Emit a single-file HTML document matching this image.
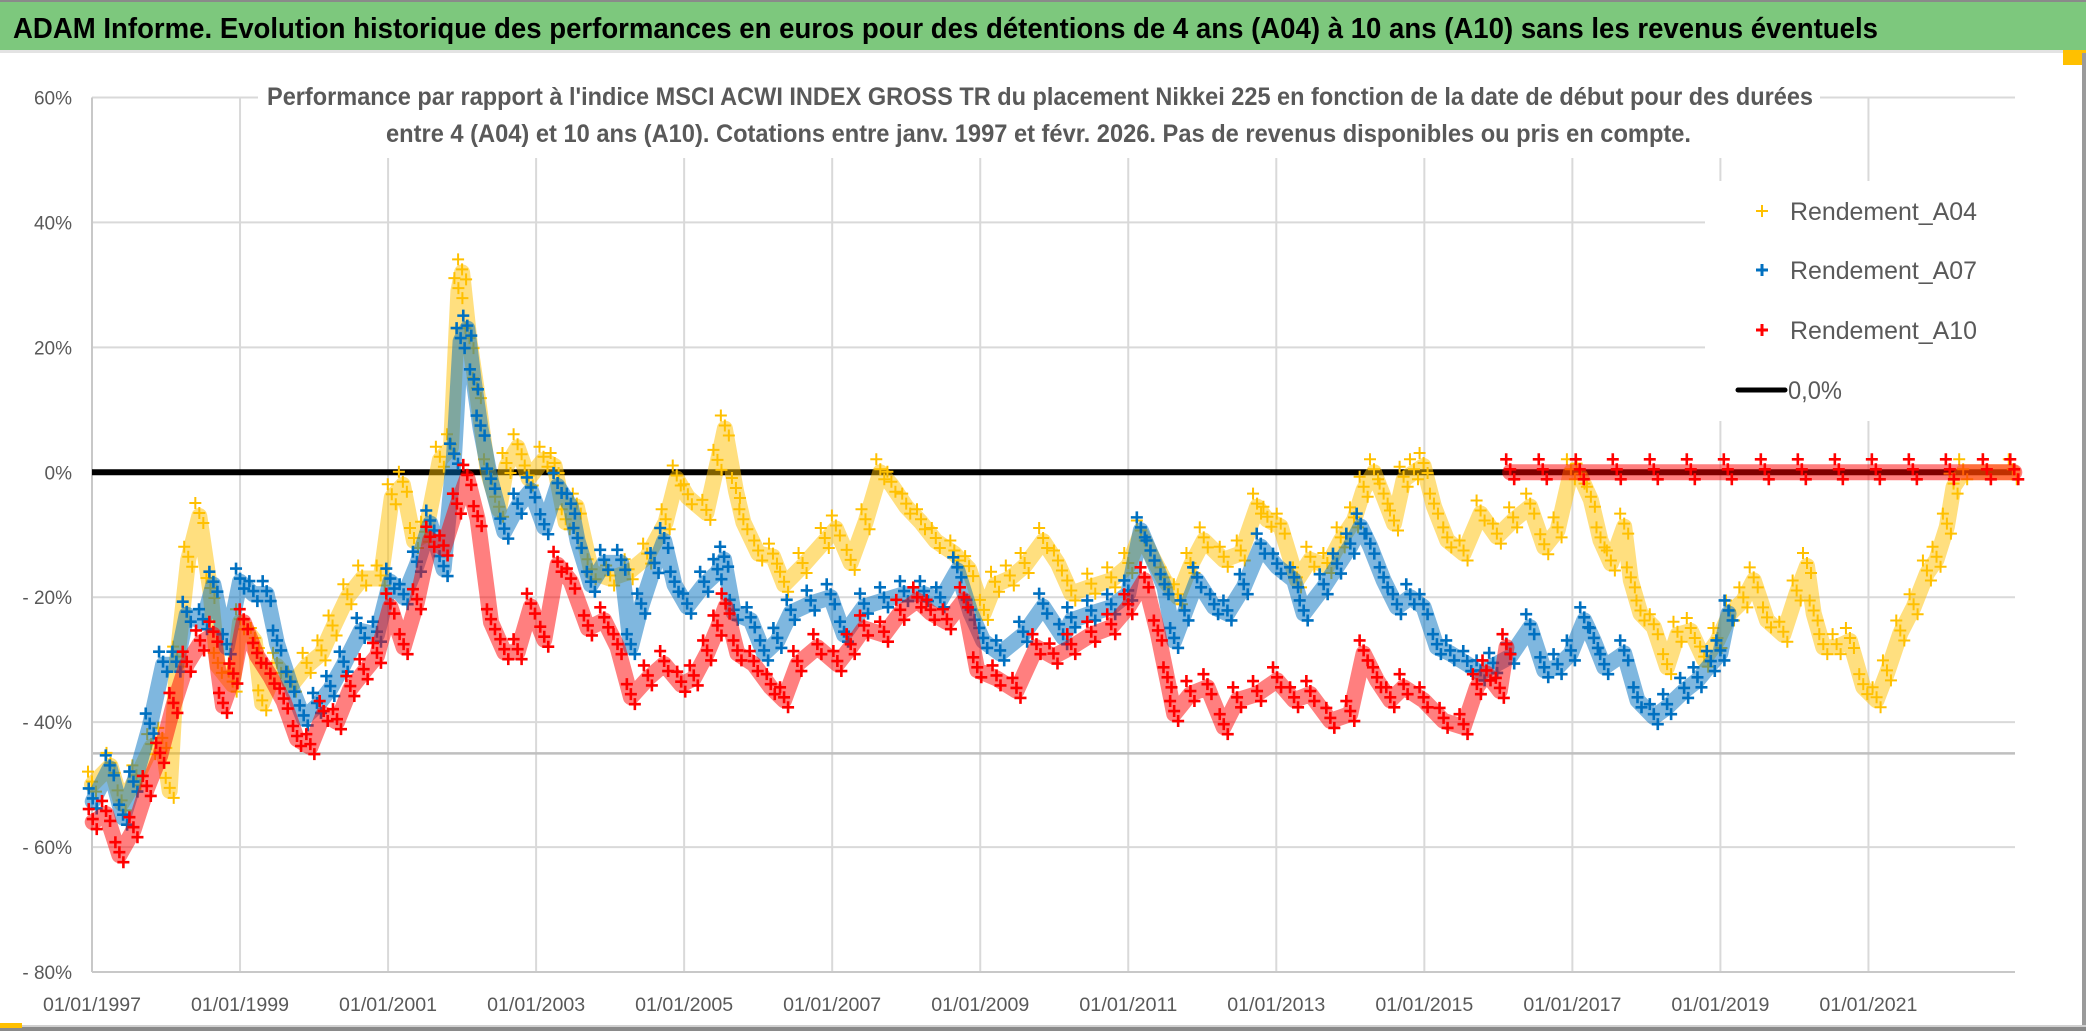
<!DOCTYPE html>
<html><head><meta charset="utf-8"><style>
html,body{margin:0;padding:0;background:#fff;}
svg{display:block;}
text{font-family:"Liberation Sans",sans-serif;}
</style></head><body>
<svg id="chart" width="2086" height="1031" viewBox="0 0 2086 1031" xmlns="http://www.w3.org/2000/svg">
<rect x="0" y="0" width="2086" height="1031" fill="#fff"/>
<rect x="0" y="0" width="2086" height="50" fill="#7DC87D"/>
<rect x="0" y="0" width="2086" height="2" fill="#8a8a8a"/>
<rect x="0" y="50" width="2086" height="3" fill="#e3e3e3"/>
<text x="13" y="38" font-size="29" font-weight="bold" fill="#000" textLength="1865" lengthAdjust="spacingAndGlyphs">ADAM Informe. Evolution historique des performances en euros pour des détentions de 4 ans (A04) à 10 ans (A10) sans les revenus éventuels</text>
<rect x="2063" y="50" width="23" height="15" fill="#FFC000"/>
<rect x="2082" y="53" width="4" height="978" fill="#9a9a9a"/>
<rect x="0" y="1025" width="2086" height="2" fill="#d0d0d0"/>
<rect x="0" y="1027" width="2086" height="4" fill="#8a8a8a"/>
<rect x="0" y="1023" width="22" height="5" fill="#FFC000"/>
<g id="grid"></g>
<g id="axes"></g>
<g id="series"></g>
<rect x="258" y="72" width="1562" height="86" fill="#fff"/>
<text x="267" y="105" font-size="25" font-weight="bold" fill="#595959" textLength="1546" lengthAdjust="spacingAndGlyphs">Performance par rapport à l'indice MSCI ACWI INDEX GROSS TR  du placement Nikkei 225 en fonction de la date de début pour des durées</text>
<text x="386" y="142" font-size="25" font-weight="bold" fill="#595959" textLength="1305" lengthAdjust="spacingAndGlyphs">entre 4 (A04) et 10 ans (A10). Cotations entre janv. 1997 et févr. 2026. Pas de revenus disponibles ou pris en compte.</text>
<g>
<rect x="1705" y="181" width="310" height="240" fill="#fff"/>
<g>
<path d="M1756 211h12M1762 205v12" stroke="#FFC000" stroke-width="2"/>
<text x="1790" y="220" font-size="25" fill="#595959" textLength="187" lengthAdjust="spacingAndGlyphs">Rendement_A04</text></g>
<g>
<path d="M1756 270h12M1762 264v12" stroke="#0070C0" stroke-width="3"/>
<text x="1790" y="279" font-size="25" fill="#595959" textLength="187" lengthAdjust="spacingAndGlyphs">Rendement_A07</text></g>
<g>
<path d="M1756 330h12M1762 324v12" stroke="#FF0000" stroke-width="3"/>
<text x="1790" y="339" font-size="25" fill="#595959" textLength="187" lengthAdjust="spacingAndGlyphs">Rendement_A10</text></g>
<g>
<line x1="1738" y1="390" x2="1785" y2="390" stroke="#000" stroke-width="5" stroke-linecap="round"/>
<text x="1788" y="399" font-size="25" fill="#595959" textLength="54" lengthAdjust="spacingAndGlyphs">0,0%</text></g>
</g>
</svg>
<script>
const yTicks = [60, 40, 20, 0, -20, -40, -60, -80];
const yTickLabels = ["60%", "40%", "20%", "0%", "- 20%", "- 40%", "- 60%", "- 80%"];
const xTicks = [1997, 1999, 2001, 2003, 2005, 2007, 2009, 2011, 2013, 2015, 2017, 2019, 2021];
const xTickLabels = ["01/01/1997","01/01/1999","01/01/2001","01/01/2003","01/01/2005","01/01/2007","01/01/2009","01/01/2011","01/01/2013","01/01/2015","01/01/2017","01/01/2019","01/01/2021"];
const refLevel = -45;
const zeroLevel = 0;

const datesA04 = [1997.0,1997.25,1997.4,1997.6,1997.8,1997.95,1998.05,1998.15,1998.3,1998.45,1998.6,1998.7,1998.9,1999.0,1999.2,1999.3,1999.5,1999.7,1999.9,2000.1,2000.25,2000.45,2000.65,2000.9,2001.05,2001.2,2001.35,2001.5,2001.7,2001.85,2001.95,2002.0,2002.1,2002.2,2002.35,2002.5,2002.6,2002.75,2002.9,2003.1,2003.25,2003.4,2003.55,2003.75,2004.0,2004.25,2004.5,2004.75,2004.9,2005.05,2005.3,2005.45,2005.55,2005.7,2005.8,2006.0,2006.2,2006.35,2006.6,2006.9,2007.05,2007.25,2007.45,2007.65,2007.8,2008.0,2008.2,2008.4,2008.65,2008.85,2009.05,2009.2,2009.4,2009.6,2009.85,2010.05,2010.23,2010.5,2010.77,2011.0,2011.17,2011.3,2011.49,2011.67,2011.84,2012.02,2012.29,2012.52,2012.74,2012.88,2013.06,2013.28,2013.46,2013.69,2013.87,2014.05,2014.18,2014.32,2014.45,2014.59,2014.72,2014.86,2014.99,2015.13,2015.31,2015.53,2015.76,2015.98,2016.2,2016.43,2016.62,2016.8,2016.98,2017.11,2017.25,2017.38,2017.52,2017.7,2017.79,2017.92,2018.1,2018.28,2018.42,2018.6,2018.78,2018.96,2019.13,2019.31,2019.45,2019.63,2019.85,2020.03,2020.17,2020.26,2020.39,2020.57,2020.75,2020.93,2021.11,2021.25,2021.43,2021.61,2021.79,2021.92,2022.06,2022.15,2022.28,2022.6,2022.95];
const valuesA04 = [-50,-47,-53,-49,-44,-43,-51,-30,-14,-7,-19,-31,-34,-24,-27,-37,-31,-34,-31,-29,-25,-20,-17,-17,-4,-2,-11,-10,2,4,29,32,21,13,0,-6,1,4,-1,2,1,-8,-5.5,-16,-17,-16,-13.5,-8,-1,-4,-6.5,1.5,7,-3,-8,-13,-13.5,-18,-15,-11,-9,-14.5,-8,0,-2,-5.5,-8,-11,-13,-15.5,-22.5,-18,-17,-15,-11,-14.6,-19.4,-18.3,-17.3,-15,-9.8,-13,-17.3,-20,-15,-10.9,-14,-13,-5.5,-7.6,-8.7,-17.3,-14,-15,-10.9,-7.7,-2.8,0,-3.9,-8.2,-1.2,0,1,-5.5,-10.9,-13,-6.6,-10.3,-7.7,-5.5,-12,-9.3,0,-0.7,-4.4,-10.9,-14.6,-8.7,-17.3,-22.6,-24.8,-31.2,-26,-25.4,-30,-27,-22.6,-20.5,-17.3,-23.7,-26,-19.4,-15,-22.6,-28,-28,-27,-34.4,-36.5,-32.2,-25.8,-21.6,-16.2,-14,-8.7,-2.3,0,0,0];

const datesA07 = [1997.01,1997.24,1997.42,1997.56,1997.78,1997.96,1998.14,1998.28,1998.5,1998.64,1998.82,1999.0,1999.18,1999.36,1999.5,1999.68,1999.86,2000.04,2000.22,2000.4,2000.63,2000.85,2001.03,2001.21,2001.39,2001.57,2001.75,2001.89,2001.98,2002.07,2002.16,2002.25,2002.39,2002.57,2002.75,2002.93,2003.11,2003.29,2003.47,2003.56,2003.74,2003.92,2004.15,2004.28,2004.42,2004.6,2004.73,2004.87,2005.04,2005.27,2005.45,2005.54,2005.67,2005.9,2006.08,2006.26,2006.44,2006.71,2006.98,2007.16,2007.43,2007.7,2007.97,2008.24,2008.46,2008.69,2008.87,2009.04,2009.27,2009.58,2009.85,2010.12,2010.23,2010.5,2010.77,2011.0,2011.17,2011.3,2011.49,2011.62,2011.76,2011.93,2012.16,2012.34,2012.56,2012.79,2013.01,2013.24,2013.37,2013.64,2013.82,2014.0,2014.14,2014.27,2014.45,2014.63,2014.81,2014.99,2015.17,2015.35,2015.58,2015.76,2015.93,2016.16,2016.43,2016.62,2016.8,2016.98,2017.16,2017.29,2017.43,2017.7,2017.88,2018.1,2018.28,2018.51,2018.69,2018.87,2019.0,2019.11];
const valuesA07 = [-52.7,-47.4,-55.3,-50,-40.7,-30.8,-30.8,-22.8,-24,-18,-28,-17.5,-19.5,-19.5,-27.4,-34,-39.4,-37.4,-34.7,-30.8,-25.4,-26,-17.5,-20,-14.8,-8.2,-15.5,2.5,21,23,14.4,7,-1.5,-9.5,-5.5,-2.9,-8.8,-2.2,-5.5,-11,-18,-14.5,-14.5,-28,-21.5,-15,-11,-18,-21.5,-18,-16,-14,-22.5,-23.7,-29,-27,-22.5,-21,-20,-26,-21.5,-20.5,-19.5,-19.5,-20.5,-15.7,-22.5,-27,-29,-26,-21.5,-26.4,-23.7,-22.6,-21.6,-19.4,-9.3,-13,-18.4,-27,-22.6,-17.3,-21.6,-22.6,-18.4,-11.9,-15.1,-17.3,-22.6,-18.4,-15.1,-11.9,-8.7,-11.9,-17.3,-21.6,-20,-21.6,-28,-29,-30.7,-32.2,-31,-29.5,-24.8,-31.7,-31.2,-29,-23.7,-27,-31.2,-29,-36.5,-39.2,-37.6,-35,-33.3,-30.7,-29,-22.6];

const datesA10 = [1997.01,1997.19,1997.37,1997.56,1997.74,1997.92,1998.1,1998.28,1998.46,1998.64,1998.77,1998.91,1999.05,1999.23,1999.41,1999.59,1999.77,1999.95,2000.13,2000.31,2000.49,2000.67,2000.85,2001.03,2001.21,2001.39,2001.57,2001.75,2001.93,2002.07,2002.21,2002.39,2002.57,2002.75,2002.93,2003.11,2003.29,2003.47,2003.7,2003.92,2004.1,2004.28,2004.51,2004.73,2004.96,2005.13,2005.31,2005.45,2005.56,2005.72,2005.94,2006.17,2006.35,2006.53,2006.8,2007.07,2007.25,2007.43,2007.7,2007.92,2008.15,2008.33,2008.55,2008.78,2008.96,2009.22,2009.49,2009.76,2009.99,2010.23,2010.5,2010.77,2011.0,2011.22,2011.4,2011.53,2011.62,2011.84,2012.07,2012.29,2012.47,2012.74,2013.01,2013.24,2013.46,2013.73,2014.0,2014.18,2014.36,2014.54,2014.72,2014.99,2015.26,2015.53,2015.71,2015.84,2016.02,2016.11,2016.16,2016.6,2017.1,2017.6,2018.1,2018.6,2019.1,2019.6,2020.1,2020.6,2021.1,2021.6,2022.1,2022.6,2022.97];
const valuesA10 = [-56,-54.7,-61.3,-57.3,-50.7,-45.4,-37.4,-30.8,-27.4,-26,-37.4,-32.7,-24,-29.4,-32.7,-36.7,-42.7,-44,-38.7,-40,-34.7,-32,-29.4,-21.5,-28,-20.8,-10.8,-12.2,-5.5,-0.9,-7.5,-24,-28.8,-28.8,-21.5,-26.8,-14.8,-17.5,-25,-23.7,-28,-36,-33,-30.7,-34,-33,-29,-25,-21.5,-29,-30.7,-34.4,-36.5,-30.7,-28,-30.7,-28,-25,-26,-22.5,-20.5,-22.5,-24,-20.5,-31.7,-33,-35,-28,-29.5,-28,-26,-24.8,-21.6,-17.3,-25.8,-33.3,-38.7,-35.5,-34.4,-40.8,-36.5,-35.5,-33.3,-36.5,-35.5,-39.8,-38.7,-29,-33.3,-36.5,-34.4,-36.5,-39.8,-40.8,-34.4,-32.2,-35,-28,0,0,0,0,0,0,0,0,0,0,0,0,0,0,0];

const NS = "http://www.w3.org/2000/svg";
const X0 = 92, X1 = 2015, Y0 = 97.5, Y1 = 972;
const yearMin = 1997, yearMax = 2022.98;
const vMin = -80, vMax = 60;
function xScale(t){ return X0 + (t - yearMin) / (yearMax - yearMin) * (X1 - X0); }
function yScale(v){ return Y1 - (v - vMin) / (vMax - vMin) * (Y1 - Y0); }

const grid = document.getElementById('grid');
const axes = document.getElementById('axes');
const series = document.getElementById('series');

function mk(tag, attrs, parent){
  const e = document.createElementNS(NS, tag);
  for (const k in attrs) e.setAttribute(k, attrs[k]);
  parent.appendChild(e);
  return e;
}

yTicks.forEach((v, i) => {
  const y = yScale(v);
  const l = mk('line', {x1: X0, x2: X1, y1: y, y2: y, stroke: '#d9d9d9', 'stroke-width': 2}, grid);
  
  
  const t = mk('text', {x: 72, y: y + 7, 'font-size': 19, fill: '#595959', 'text-anchor': 'end'}, axes);
  t.textContent = yTickLabels[i];
  
  
});
xTicks.forEach((yr, i) => {
  const x = xScale(yr);
  if (i > 0) {
    const l = mk('line', {x1: x, x2: x, y1: Y0, y2: Y1, stroke: '#d9d9d9', 'stroke-width': 2}, grid);
    
    
  }
  const t = mk('text', {x: x, y: 1011, 'font-size': 19, fill: '#595959', 'text-anchor': 'middle', textLength: 98, lengthAdjust: 'spacingAndGlyphs'}, axes);
  t.textContent = xTickLabels[i];
  
  
});
const refLine = mk('line', {x1: X0, x2: X1, y1: yScale(refLevel), y2: yScale(refLevel), stroke: '#bfbfbf', 'stroke-width': 2.5}, grid);


const yAxis = mk('line', {x1: X0, x2: X0, y1: Y0, y2: Y1, stroke: '#c8c8c8', 'stroke-width': 2}, axes);


const xAxis = mk('line', {x1: X0, x2: X1, y1: Y1, y2: Y1, stroke: '#c8c8c8', 'stroke-width': 2}, axes);



const zl = mk('line', {x1: X0, x2: X1, y1: yScale(zeroLevel), y2: yScale(zeroLevel), stroke: '#000', 'stroke-width': 6}, series);



function drawSeries(dates, vals, color, name, sw){
  const g = mk('g', {}, series);
  
  
  const segs = [];
  let cur = [];
  dates.forEach((d, i) => {
    if (i > 0 && Math.abs(vals[i] - vals[i-1]) > 25) { segs.push(cur); cur = []; }
    cur.push(xScale(d).toFixed(1) + ',' + yScale(vals[i]).toFixed(1));
  });
  segs.push(cur);
  segs.forEach(s => {
    const band = mk('polyline', {points: s.join(' '), fill: 'none', stroke: color, 'stroke-width': 16, 'stroke-linejoin': 'round', 'stroke-linecap': 'round', opacity: 0.5}, g);
    
    
  });
  let d = '';
  dates.forEach((t, i) => {
    const x = xScale(t), y = yScale(vals[i]);
    [-13, -3, 7].forEach((o, k) => {
      const xx = x + (k - 1) * 4;
      d += 'M' + (xx - 6) + ' ' + (y + o) + 'h12M' + xx + ' ' + (y + o - 6) + 'v12';
    });
  });
  const m = mk('path', {d: d, stroke: color, 'stroke-width': sw, fill: 'none'}, g);
  
  
}
drawSeries(datesA04, valuesA04, '#FFC000', 'series-a04', 2);
drawSeries(datesA07, valuesA07, '#0070C0', 'series-a07', 2.6);
drawSeries(datesA10, valuesA10, '#FF0000', 'series-a10', 2.6);
</script>
</body></html>
